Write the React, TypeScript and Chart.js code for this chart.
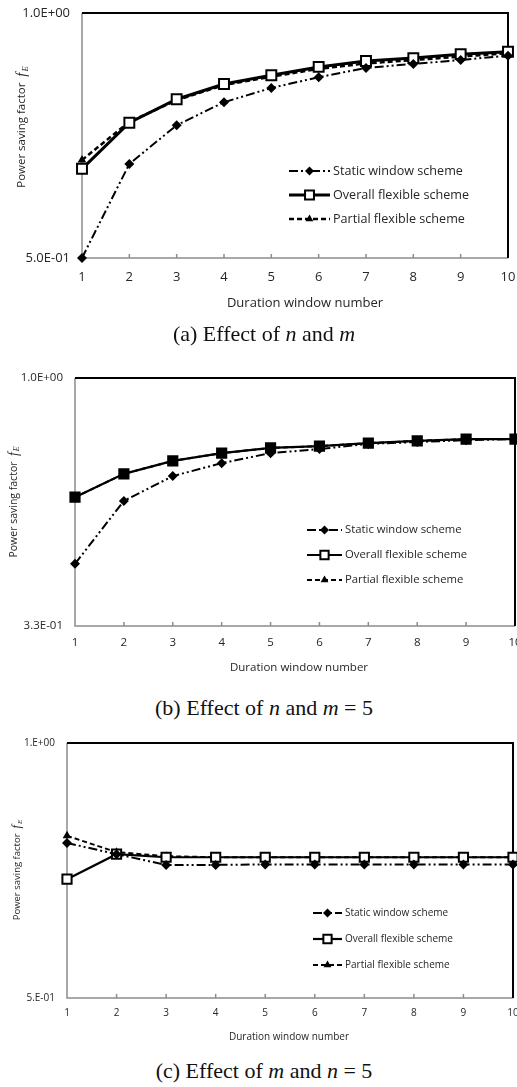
import React, { useEffect, useRef } from "react";
import { Chart, registerables } from "chart.js";

Chart.register(...registerables);

// ---------- data ----------
const categories = ["1", "2", "3", "4", "5", "6", "7", "8", "9", "10"];
const seriesNames = ["Static window scheme", "Overall flexible scheme", "Partial flexible scheme"];

// (a) Effect of n and m
const staticA = [0.5, 0.692, 0.771, 0.818, 0.847, 0.869, 0.888, 0.896, 0.904, 0.913];
const overallA = [0.682, 0.776, 0.824, 0.855, 0.873, 0.89, 0.902, 0.908, 0.916, 0.921];
const partialA = [0.7, 0.778, 0.822, 0.853, 0.87, 0.886, 0.897, 0.904, 0.911, 0.918];
const yTicksA = ["5.0E-01", "1.0E+00"];
const yRangeA = [0.5, 1.0];

// (b) Effect of n and m = 5
const staticB = [0.498, 0.668, 0.735, 0.77, 0.797, 0.808, 0.822, 0.827, 0.832, 0.835];
const overallB = [0.678, 0.741, 0.776, 0.797, 0.811, 0.816, 0.824, 0.83, 0.835, 0.835];
const partialB = [0.678, 0.741, 0.776, 0.797, 0.811, 0.816, 0.824, 0.83, 0.835, 0.835];
const yTicksB = ["3.3E-01", "1.0E+00"];
const yRangeB = [0.33, 1.0];

// (c) Effect of m and n = 5
const staticC = [0.804, 0.782, 0.761, 0.761, 0.762, 0.762, 0.762, 0.762, 0.762, 0.762];
const overallC = [0.733, 0.782, 0.776, 0.776, 0.776, 0.776, 0.776, 0.776, 0.776, 0.776];
const partialC = [0.818, 0.786, 0.778, 0.776, 0.776, 0.776, 0.776, 0.776, 0.776, 0.776];
const yTicksC = ["5.E-01", "1.E+00"];
const yRangeC = [0.5, 1.0];

const xTitle = "Duration window number";
const yTitle = "Power saving factor";

// ---------- layout / style ----------
const W = 517;
const SANS = "'Open Sans', 'Noto Sans', sans-serif";
const TEXT = "#262626";

type Panel = {
  id: string;
  band: { top: number; height: number };
  plot: { l: number; t: number; r: number; b: number };
  data: number[][];
  yTicks: string[];
  yRange: number[];
  tickFont: number;
  xTickPad: number;
  yt: { x: number; cy: number; size: number };
  xt: { cx: number; cy: number; size: number };
  lg: { x1: number; x2: number; tx: number; ys: number[]; size: number };
  widths: number[];
  radii: number[];
  squareFill: string;
};

const panels: Panel[] = [
  {
    id: "a",
    band: { top: 0, height: 318 },
    plot: { l: 82, t: 13, r: 508, b: 258 },
    data: [staticA, overallA, partialA],
    yTicks: yTicksA,
    yRange: yRangeA,
    tickFont: 13,
    xTickPad: 11,
    yt: { x: 22, cy: 127, size: 11.5 },
    xt: { cx: 305, cy: 303, size: 13 },
    lg: { x1: 289, x2: 330, tx: 333, ys: [171, 195, 219], size: 12.6 },
    widths: [2, 3, 2.5],
    radii: [5, 7, 5],
    squareFill: "#fff",
  },
  {
    id: "b",
    band: { top: 345, height: 345 },
    plot: { l: 75, t: 378, r: 515, b: 626 },
    data: [staticB, overallB, partialB],
    yTicks: yTicksB,
    yRange: yRangeB,
    tickFont: 11.5,
    xTickPad: 10,
    yt: { x: 14, cy: 502, size: 10.5 },
    xt: { cx: 299, cy: 668, size: 11.5 },
    lg: { x1: 307, x2: 342, tx: 345, ys: [530, 555, 580], size: 11.3 },
    widths: [2, 2.2, 2],
    radii: [5, 6.5, 5],
    squareFill: "#000",
  },
  {
    id: "c",
    band: { top: 722, height: 330 },
    plot: { l: 67, t: 743, r: 513, b: 998 },
    data: [staticC, overallC, partialC],
    yTicks: yTicksC,
    yRange: yRangeC,
    tickFont: 10,
    xTickPad: 9,
    yt: { x: 17, cy: 870, size: 9.5 },
    xt: { cx: 289, cy: 1037, size: 10 },
    lg: { x1: 313, x2: 342, tx: 345, ys: [913, 939, 965], size: 10 },
    widths: [2, 2.2, 2],
    radii: [5, 6.5, 5],
    squareFill: "#fff",
  },
];

const styles = ["rectRot", "rect", "triangle"];
const dashes = [
  [9, 3, 2, 3, 2, 3],
  [],
  [5, 3],
];

function marker(ctx: CanvasRenderingContext2D, style: string, x: number, y: number, r: number, fill: string) {
  ctx.save();
  ctx.setLineDash([]);
  ctx.beginPath();
  if (style === "rectRot") {
    ctx.moveTo(x, y - r);
    ctx.lineTo(x + r, y);
    ctx.lineTo(x, y + r);
    ctx.lineTo(x - r, y);
    ctx.closePath();
    ctx.fillStyle = "#000";
    ctx.fill();
  } else if (style === "rect") {
    const s = r * Math.SQRT1_2;
    ctx.rect(x - s, y - s, 2 * s, 2 * s);
    ctx.fillStyle = fill;
    ctx.fill();
    ctx.lineWidth = 2;
    ctx.strokeStyle = "#000";
    ctx.stroke();
  } else {
    let rad = 0;
    ctx.moveTo(x + Math.sin(rad) * r, y - Math.cos(rad) * r);
    rad += (2 * Math.PI) / 3;
    ctx.lineTo(x + Math.sin(rad) * r, y - Math.cos(rad) * r);
    rad += (2 * Math.PI) / 3;
    ctx.lineTo(x + Math.sin(rad) * r, y - Math.cos(rad) * r);
    ctx.closePath();
    ctx.fillStyle = "#000";
    ctx.fill();
  }
  ctx.restore();
}

function makePlugin(p: Panel) {
  const oy = p.band.top;
  return {
    id: "panel_" + p.id,
    beforeDatasetsDraw(chart: any) {
      const { ctx, chartArea: a } = chart;
      ctx.save();
      ctx.setLineDash([]);
      ctx.strokeStyle = "#8c8c8c";
      ctx.lineWidth = 1.5;
      ctx.beginPath();
      ctx.moveTo(a.left, a.top);
      ctx.lineTo(a.left, a.bottom);
      ctx.lineTo(a.right, a.bottom);
      const xs = chart.scales.x;
      for (let i = 1; i < categories.length - 1; i++) {
        const x = xs.getPixelForValue(i);
        ctx.moveTo(x, a.bottom);
        ctx.lineTo(x, a.bottom - 4);
      }
      ctx.stroke();
      ctx.strokeStyle = "#000";
      ctx.lineWidth = 2;
      ctx.beginPath();
      ctx.moveTo(a.left, a.top);
      ctx.lineTo(a.right, a.top);
      ctx.lineTo(a.right, a.bottom);
      ctx.stroke();
      ctx.restore();
    },
    afterDraw(chart: any) {
      const { ctx } = chart;
      ctx.save();
      // x title
      ctx.fillStyle = TEXT;
      ctx.font = `${p.xt.size}px ${SANS}`;
      ctx.textAlign = "center";
      ctx.textBaseline = "middle";
      ctx.fillText(xTitle, p.xt.cx, p.xt.cy - oy);
      // y title (rotated) with italic f_E
      const sansFont = `${p.yt.size}px ${SANS}`;
      const fFont = `italic ${p.yt.size * 1.3}px 'Liberation Serif', serif`;
      const eFont = `italic ${p.yt.size * 0.75}px 'Liberation Serif', serif`;
      ctx.font = sansFont;
      const w1 = ctx.measureText(yTitle + "  ").width;
      ctx.font = fFont;
      const w2 = ctx.measureText("f").width + 1;
      ctx.font = eFont;
      const w3 = ctx.measureText("E").width;
      const total = w1 + w2 + w3;
      ctx.translate(p.yt.x, p.yt.cy - oy + total / 2);
      ctx.rotate(-Math.PI / 2);
      ctx.textAlign = "left";
      ctx.textBaseline = "middle";
      ctx.font = sansFont;
      ctx.fillText(yTitle, 0, 0);
      ctx.font = fFont;
      ctx.fillText("f", w1, 0);
      ctx.font = eFont;
      ctx.fillText("E", w1 + w2, p.yt.size * 0.3);
      ctx.restore();

      // legend
      ctx.save();
      for (let i = 0; i < 3; i++) {
        const y = p.lg.ys[i] - oy;
        ctx.strokeStyle = "#000";
        ctx.lineWidth = p.widths[i];
        ctx.setLineDash(dashes[i]);
        ctx.beginPath();
        ctx.moveTo(p.lg.x1, y);
        ctx.lineTo(p.lg.x2, y);
        ctx.stroke();
        marker(ctx, styles[i], (p.lg.x1 + p.lg.x2) / 2, y, p.radii[i] * 0.9, "#fff");
        ctx.fillStyle = TEXT;
        ctx.font = `${p.lg.size}px ${SANS}`;
        ctx.textAlign = "left";
        ctx.textBaseline = "middle";
        ctx.fillText(seriesNames[i], p.lg.tx, y);
      }
      ctx.restore();
    },
  };
}

function PanelChart({ p }: { p: Panel }) {
  const ref = useRef<HTMLCanvasElement | null>(null);
  useEffect(() => {
    if (!ref.current) return;
    const [ymin, ymax] = p.yRange;
    const chart = new Chart(ref.current, {
      type: "line",
      data: {
        labels: categories,
        datasets: p.data.map((d, i) => ({
          label: seriesNames[i],
          data: d,
          borderColor: "#000",
          borderWidth: p.widths[i],
          borderDash: dashes[i],
          pointStyle: styles[i] as any,
          pointRadius: p.radii[i],
          pointBackgroundColor: i === 1 ? p.squareFill : "#000",
          pointBorderColor: "#000",
          pointBorderWidth: i === 1 ? 2 : 0,
          tension: 0,
          fill: false,
          clip: false as any,
        })),
      },
      options: {
        responsive: false,
        animation: false,
        devicePixelRatio: 1,
        layout: {
          autoPadding: false,
          padding: { left: 0, top: p.plot.t - p.band.top, right: W - p.plot.r, bottom: 0 },
        },
        plugins: { legend: { display: false }, tooltip: { enabled: false } },
        scales: {
          x: {
            type: "category",
            offset: false,
            grid: { display: false, drawTicks: false },
            border: { display: false },
            ticks: {
              padding: p.xTickPad,
              autoSkip: false,
              maxRotation: 0,
              color: TEXT,
              font: { family: SANS, size: p.tickFont },
            },
            afterFit: (s: any) => {
              s.height = p.band.top + p.band.height - p.plot.b;
              s.paddingLeft = 0;
              s.paddingRight = 0;
            },
          },
          y: {
            type: "linear",
            min: ymin,
            max: ymax,
            grid: { display: false, drawTicks: false },
            border: { display: false },
            ticks: {
              padding: 12,
              color: TEXT,
              font: { family: SANS, size: p.tickFont },
              callback: (_v: any, i: number) => p.yTicks[i],
            },
            afterBuildTicks: (s: any) => {
              s.ticks = [{ value: ymin }, { value: ymax }];
            },
            afterFit: (s: any) => {
              s.width = p.plot.l;
              s.paddingTop = 0;
              s.paddingBottom = 0;
            },
          },
        },
      } as any,
      plugins: [makePlugin(p)],
    });
    return () => chart.destroy();
  }, [p]);
  return (
    <canvas
      ref={ref}
      width={W}
      height={p.band.height}
      style={{ position: "absolute", left: 0, top: p.band.top, width: W, height: p.band.height }}
    />
  );
}

const mi: React.CSSProperties = { fontStyle: "italic", fontFamily: "'Liberation Serif', serif" };

function Caption({ cy, children }: { cy: number; children: React.ReactNode }) {
  return (
    <div
      style={{
        position: "absolute",
        left: 264,
        top: cy,
        transform: "translate(-50%, -50%)",
        whiteSpace: "nowrap",
        fontFamily: "'Liberation Serif', 'Times New Roman', serif",
        fontSize: 22,
        color: "#111",
        lineHeight: 1,
      }}
    >
      {children}
    </div>
  );
}

export default function App() {
  return (
    <div style={{ position: "absolute", left: 0, top: 0, width: W, height: 1087, background: "#fff", overflow: "hidden" }}>
      {panels.map((p) => (
        <PanelChart key={p.id} p={p} />
      ))}
      <Caption cy={334}>
        (a) Effect of <span style={mi}>n</span> and <span style={mi}>m</span>
      </Caption>
      <Caption cy={708}>
        (b) Effect of <span style={mi}>n</span> and <span style={mi}>m</span> = 5
      </Caption>
      <Caption cy={1071}>
        (c) Effect of <span style={mi}>m</span> and <span style={mi}>n</span> = 5
      </Caption>
    </div>
  );
}
